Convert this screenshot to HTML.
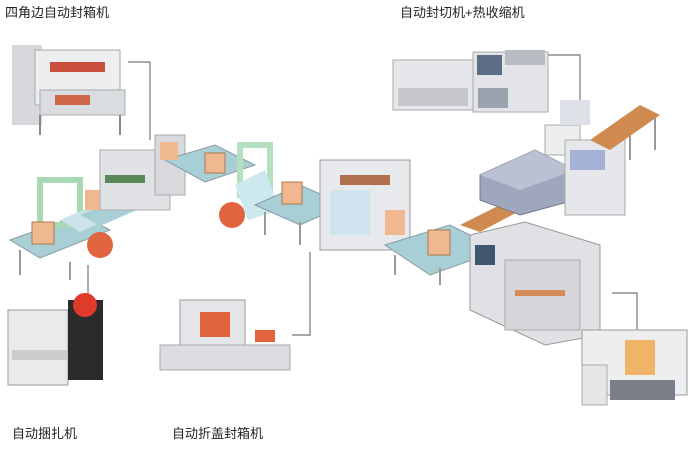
<!DOCTYPE html>
<html><head><meta charset="utf-8"><style>
html,body{margin:0;padding:0;background:#fff;width:693px;height:465px;overflow:hidden}
svg{display:block}
text{font-family:"Liberation Sans","Noto Sans CJK SC",sans-serif;font-size:13px;fill:#222}
</style></head><body>
<svg width="693" height="465" viewBox="0 0 693 465">
<!-- leader lines -->
<g stroke="#777" stroke-width="1.2" fill="none">
<polyline points="128,62 150,62 150,140"/>
<polyline points="548,55 580,55 580,100"/>
<line x1="88" y1="265" x2="88" y2="300"/>
<polyline points="310,252 310,335 292,335"/>
<polyline points="612,293 637,293 637,330"/>
</g>
<!-- top-left machine -->
<g>
<rect x="12" y="45" width="30" height="80" fill="#d8d8dc"/>
<rect x="35" y="50" width="85" height="55" fill="#eceef0" stroke="#aaa"/>
<rect x="50" y="62" width="55" height="10" fill="#c9503a"/>
<rect x="40" y="90" width="85" height="25" fill="#dadde0" stroke="#aaa"/>
<rect x="55" y="95" width="35" height="10" fill="#d0664a"/>
<line x1="40" y1="115" x2="40" y2="135" stroke="#888" stroke-width="2"/>
<line x1="120" y1="115" x2="120" y2="135" stroke="#888" stroke-width="2"/>
</g>
<!-- top-right shrink machine -->
<g>
<rect x="393" y="60" width="80" height="50" fill="#e6e7ea" stroke="#aaa"/>
<rect x="398" y="88" width="70" height="18" fill="#c6c8cc"/>
<rect x="473" y="52" width="75" height="60" fill="#e2e4e8" stroke="#aaa"/>
<rect x="477" y="55" width="25" height="20" fill="#5b6e86"/>
<rect x="505" y="50" width="40" height="15" fill="#b9bcc2"/>
<rect x="478" y="88" width="30" height="20" fill="#9aa2ae"/>
</g>
<!-- main line left conveyors -->
<g>
<polygon points="10,240 80,215 110,230 40,258" fill="#a9cfd6" stroke="#8a9aa4"/>
<rect x="40" y="180" width="40" height="45" fill="none" stroke="#a8d8b4" stroke-width="6"/>
<polygon points="60,220 130,190 150,200 80,232" fill="#cde3ea"/>
<polygon points="80,215 140,190 160,200 100,226" fill="#a9cfd6"/>
<rect x="32" y="222" width="22" height="22" fill="#f0b890" stroke="#b07850"/>
<rect x="85" y="190" width="18" height="20" fill="#f0b890"/>
<circle cx="100" cy="245" r="13" fill="#e0643e"/>
<rect x="100" y="150" width="70" height="60" fill="#e0e2e6" stroke="#aaa"/>
<rect x="105" y="175" width="40" height="8" fill="#5b8a5a"/>
<rect x="155" y="135" width="30" height="60" fill="#d8dadd" stroke="#aaa"/>
<polygon points="165,160 215,145 255,165 205,182" fill="#a9cfd6" stroke="#8a9aa4"/>
<rect x="160" y="142" width="18" height="18" fill="#f0b890"/>
<rect x="205" y="153" width="20" height="20" fill="#f0b890" stroke="#b07850"/>
<rect x="240" y="145" width="30" height="50" fill="none" stroke="#b4e0c0" stroke-width="6"/>
<polygon points="235,185 265,170 280,210 248,220" fill="#cde9ee"/>
<circle cx="232" cy="215" r="13" fill="#e0643e"/>
<polygon points="255,205 300,185 345,205 300,225" fill="#a9cfd6" stroke="#8a9aa4"/>
<rect x="282" y="182" width="20" height="22" fill="#f0b890" stroke="#b07850"/>
<g stroke="#999" stroke-width="2"><line x1="20" y1="250" x2="20" y2="275"/><line x1="70" y1="262" x2="70" y2="280"/><line x1="265" y1="212" x2="265" y2="235"/><line x1="300" y1="222" x2="300" y2="245"/></g>
</g>
<!-- central case erector -->
<g>
<rect x="320" y="160" width="90" height="90" fill="#e7e9ec" stroke="#999"/>
<rect x="330" y="190" width="40" height="45" fill="#cfe4ef"/>
<rect x="340" y="175" width="50" height="10" fill="#b07050"/>
<rect x="385" y="210" width="20" height="25" fill="#f0b890"/>
</g>
<!-- conveyors to right -->
<g>
<polygon points="385,245 450,225 500,250 430,275" fill="#a9cfd6" stroke="#8a9aa4"/>
<rect x="428" y="230" width="22" height="25" fill="#f0b890" stroke="#b07850"/>
<polygon points="460,225 520,195 540,200 480,232" fill="#d08a50"/>
<g stroke="#999" stroke-width="2"><line x1="395" y1="255" x2="395" y2="275"/><line x1="440" y1="268" x2="440" y2="285"/></g>
</g>
<!-- big case packer -->
<g>
<polygon points="470,235 525,222 600,245 600,335 545,345 470,310" fill="#e0e1e4" stroke="#999"/>
<rect x="475" y="245" width="20" height="20" fill="#3f5670"/>
<rect x="505" y="260" width="75" height="70" fill="#d4d6da" stroke="#aaa"/>
<rect x="515" y="290" width="50" height="6" fill="#d58a5a"/>
</g>
<!-- tunnel -->
<g>
<polygon points="480,175 535,150 575,170 575,200 520,215 480,200" fill="#9ea7bc" stroke="#778"/>
<polygon points="480,175 535,150 575,170 520,190" fill="#b9c1d2"/>
<rect x="545" y="125" width="35" height="30" fill="#eceef0" stroke="#aaa"/>
<rect x="560" y="100" width="30" height="25" fill="#dde0e6"/>
<rect x="565" y="140" width="60" height="75" fill="#e6e7ea" stroke="#aaa"/>
<rect x="570" y="150" width="35" height="20" fill="#8a9ad0" opacity=".7"/>
<polygon points="590,140 640,105 660,115 610,150" fill="#d08a50"/>
<g stroke="#999" stroke-width="2"><line x1="655" y1="118" x2="655" y2="150"/><line x1="630" y1="135" x2="630" y2="160"/></g>
</g>
<!-- bottom-left strapping -->
<g>
<rect x="8" y="310" width="60" height="75" fill="#e9eaec" stroke="#999"/>
<rect x="68" y="300" width="35" height="80" fill="#2b2b2b"/>
<circle cx="85" cy="305" r="12" fill="#e03a2a"/>
<rect x="12" y="350" width="55" height="10" fill="#ccc"/>
</g>
<!-- bottom-middle flap folder -->
<g>
<rect x="180" y="300" width="65" height="55" fill="#e4e5e8" stroke="#999"/>
<rect x="200" y="312" width="30" height="25" fill="#e0643e"/>
<rect x="160" y="345" width="130" height="25" fill="#dcdde0" stroke="#aaa"/>
<rect x="255" y="330" width="20" height="12" fill="#e0643e"/>
</g>
<!-- bottom-right erector -->
<g>
<rect x="582" y="330" width="105" height="65" fill="#eceef0" stroke="#999"/>
<rect x="625" y="340" width="30" height="35" fill="#f0b468"/>
<rect x="582" y="365" width="25" height="40" fill="#e6e6e6" stroke="#aaa"/>
<rect x="610" y="380" width="65" height="20" fill="#7a7e88"/>
</g>
<text x="5" y="17">四角边自动封箱机</text>
<text x="400" y="17">自动封切机+热收缩机</text>
<text x="12" y="438">自动捆扎机</text>
<text x="172" y="438">自动折盖封箱机</text>
</svg>
</body></html>
